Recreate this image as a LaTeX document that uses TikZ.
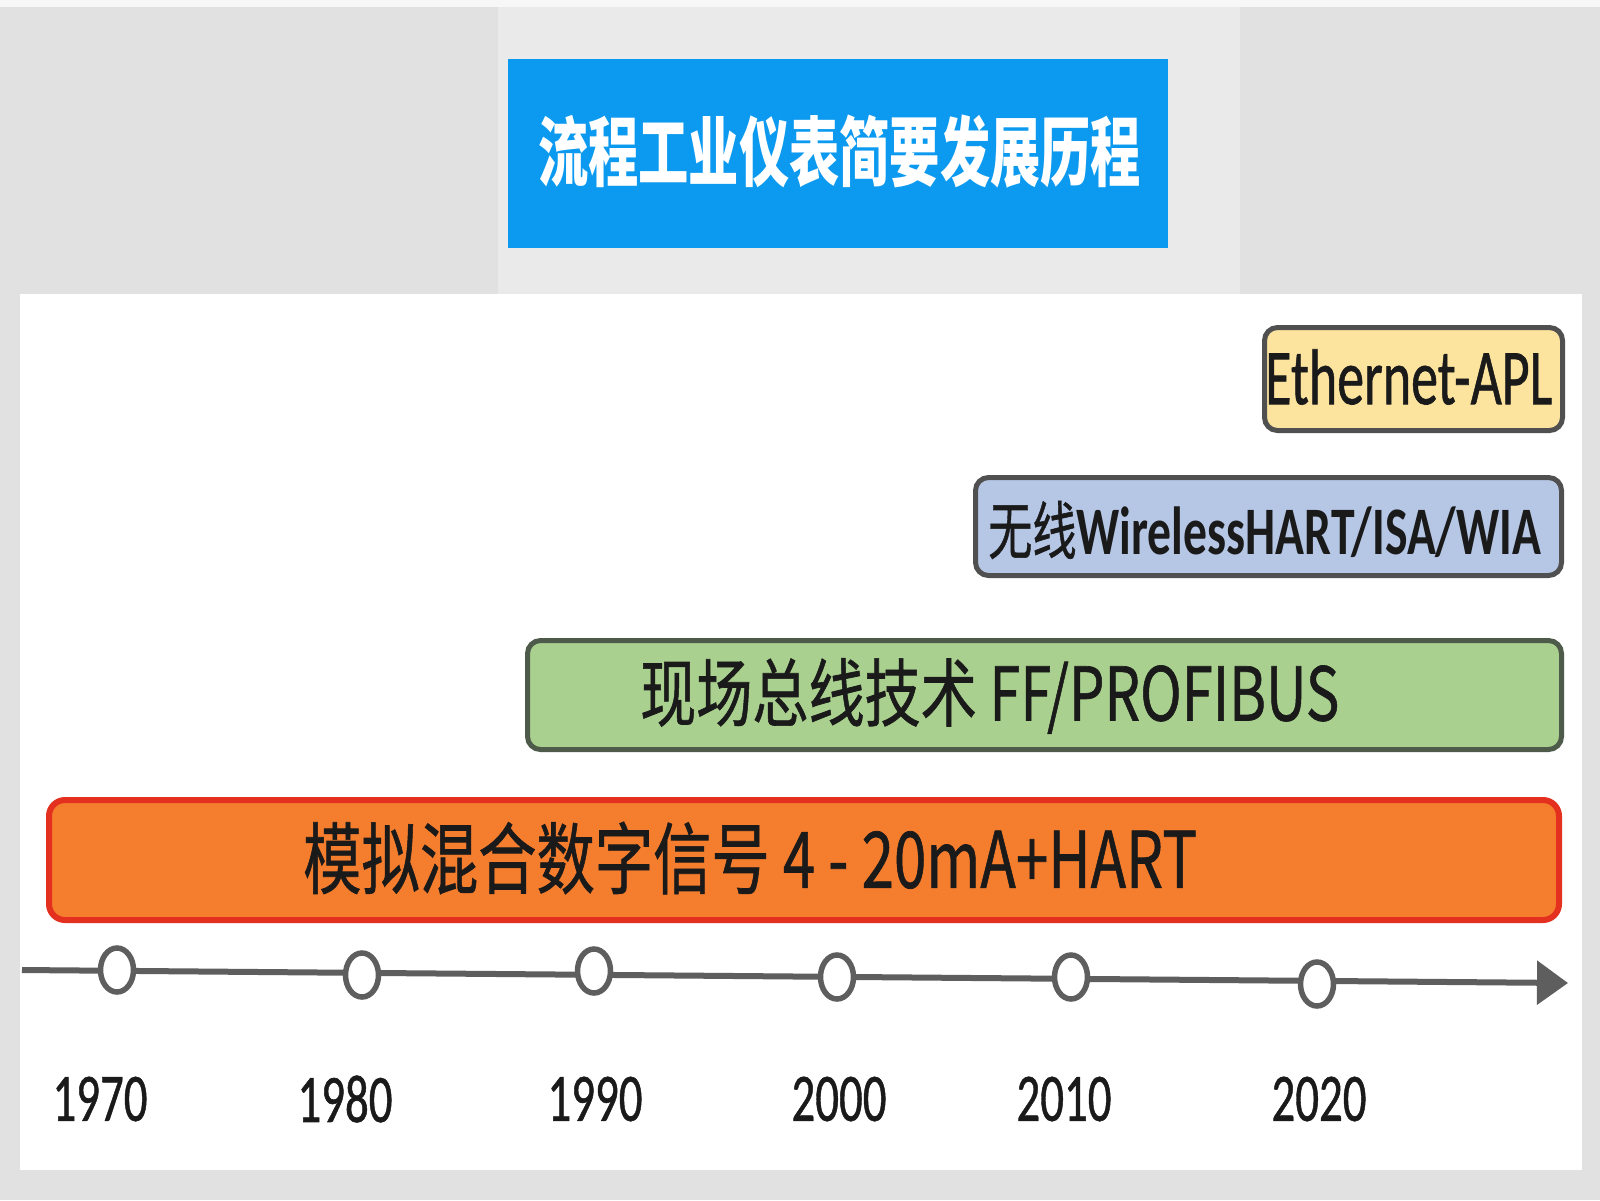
\documentclass[tikz,border=0pt]{standalone}
\usepackage{fontspec}
\usepackage{graphicx}
\usetikzlibrary{shapes.geometric,arrows.meta}
\newfontfamily\cjk{Noto Sans CJK SC}
\newfontfamily\cjkb[FakeBold=0.9]{Noto Sans CJK SC}
\newfontfamily\lat{Carlito}
\newfontfamily\latb[FakeBold=0.9]{Carlito}
\newcommand\fitw[2]{\resizebox{#1}{\height}{#2}}
\definecolor{bgg}{HTML}{E1E1E1}
\definecolor{bgl}{HTML}{EAEAEA}
\definecolor{titleblue}{HTML}{0C99F0}
\definecolor{aplfill}{HTML}{FCE49E}
\definecolor{wlfill}{HTML}{B6C7E6}
\definecolor{ffill}{HTML}{A9D08E}
\definecolor{orfill}{HTML}{F47D2E}
\definecolor{orline}{HTML}{E3301F}
\definecolor{boxline}{HTML}{505050}
\definecolor{gline}{HTML}{4E5A4A}
\definecolor{tlgray}{HTML}{5E5E5E}
\definecolor{txt}{HTML}{1A1A1A}
\tikzset{
  bar/.style={draw=boxline, rounded corners=13pt, inner sep=0pt, line width=5pt},
  lbl/.style={anchor=west, inner sep=0pt, text=txt},
  yrdot/.style={ellipse, draw=tlgray, fill=white, line width=5.5pt, minimum width=33pt, minimum height=44pt, inner sep=0pt},
  yrlab/.style={inner sep=0pt, text=txt}
}
\begin{document}
\begin{tikzpicture}[x=1pt,y=-1pt]
\useasboundingbox (0,0) rectangle (1600,1200);
% background
\fill[bgg] (0,0) rectangle (1600,1200);
\fill[white!97!black] (0,0) rectangle (1600,7);
\fill[bgl] (498,7) rectangle (1240,294);
\fill[white] (20,294) rectangle (1582,1170);
% title
\node[fill=titleblue, minimum width=660pt, minimum height=189pt, inner sep=0pt] (tbox) at (838,153.5) {};
\node[anchor=west, inner sep=0pt, text=white] (ttl) at (538,152)
  {\fitw{603pt}{\cjk\bfseries\fontsize{76}{76}\selectfont 流程工业仪表简要发展历程}};
% bars
\node[bar, fill=aplfill, minimum width=298pt, minimum height=103pt] (apl) at (1413.5,379) {};
\node[lbl] (tapl) at (1265,377) {\fitw{287pt}{\latb\fontsize{79}{79}\selectfont Ethernet-APL}};
\node[bar, fill=wlfill, minimum width=586pt, minimum height=98pt] (wl) at (1268.5,526.5) {};
\node[lbl] (twl) at (988,530) {\fitw{553pt}{{\cjkb\fontsize{63}{63}\selectfont 无线}{\lat\bfseries\fontsize{68}{68}\selectfont WirelessHART/ISA/WIA}}};
\node[bar, draw=gline, fill=ffill, minimum width=1034pt, minimum height=109pt] (ff) at (1044.5,695) {};
\node[lbl] (tff) at (640,696) {\fitw{699pt}{\cjkb\fontsize{74}{74}\selectfont 现场总线技术 FF/PROFIBUS}};
\node[bar, draw=orline, line width=6pt, rounded corners=16pt, fill=orfill, minimum width=1510pt, minimum height=120pt] (hart) at (804,860) {};
\node[lbl] (thart) at (303,858) {\fitw{894pt}{\cjkb\fontsize{78}{78}\selectfont 模拟混合数字信号 4 - 20mA+HART}};
% timeline
\coordinate (tl0) at (22,970);
\coordinate (tl1) at (1568,983);
\draw[tlgray, line width=6pt, -{Triangle[length=31pt,width=43pt]}] (tl0) -- (tl1);
\node[yrdot] (d1970) at (117,970) {};
\node[yrdot] (d1980) at (362,975) {};
\node[yrdot] (d1990) at (594,971) {};
\node[yrdot] (d2000) at (837,977) {};
\node[yrdot] (d2010) at (1071,977) {};
\node[yrdot] (d2020) at (1317,984) {};
\node[yrlab] (l1970) at (100,1099) {\fitw{95pt}{\latb\fontsize{68}{68}\selectfont 1970}};
\node[yrlab] (l1980) at (345,1099) {\fitw{95pt}{\latb\fontsize{68}{68}\selectfont 1980}};
\node[yrlab] (l1990) at (595,1099) {\fitw{95pt}{\latb\fontsize{68}{68}\selectfont 1990}};
\node[yrlab] (l2000) at (839,1099) {\fitw{95pt}{\latb\fontsize{68}{68}\selectfont 2000}};
\node[yrlab] (l2010) at (1064,1099) {\fitw{95pt}{\latb\fontsize{68}{68}\selectfont 2010}};
\node[yrlab] (l2020) at (1319,1099) {\fitw{95pt}{\latb\fontsize{68}{68}\selectfont 2020}};
\end{tikzpicture}
\end{document}
